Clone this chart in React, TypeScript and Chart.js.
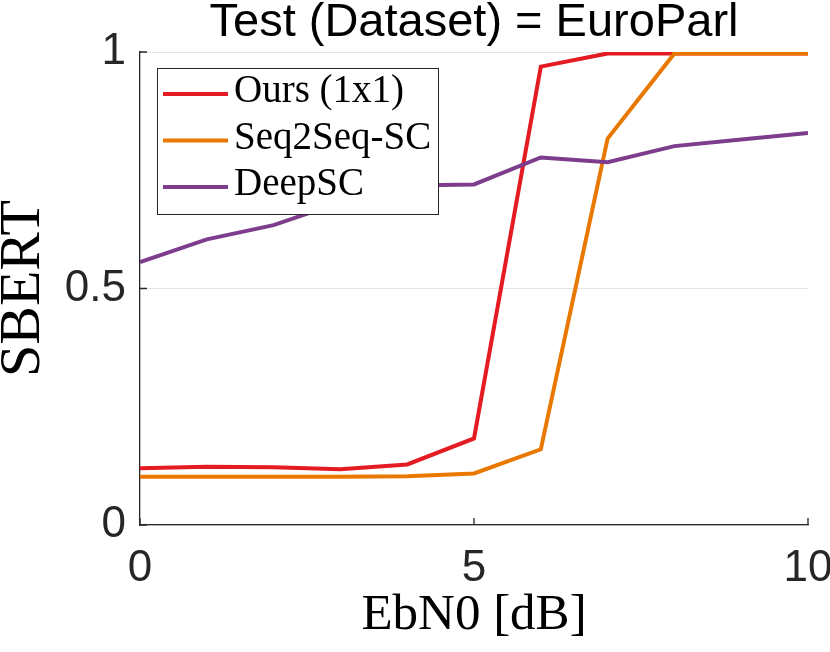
import { useEffect, useRef } from 'react'
import { Chart, registerables } from 'chart.js'
import type { Plugin } from 'chart.js'

Chart.register(...registerables)

const EBN0 = [0, 1, 2, 3, 4, 5, 6, 7, 8, 9, 10]
const OURS = [0.12, 0.123, 0.122, 0.118, 0.128, 0.183, 0.969, 0.997, 0.997, 0.997, 0.997]
const SEQ2SEQ = [0.102, 0.102, 0.102, 0.102, 0.103, 0.109, 0.16, 0.817, 0.997, 0.997, 0.997]
const DEEPSC = [0.556, 0.604, 0.634, 0.682, 0.718, 0.72, 0.777, 0.767, 0.801, 0.815, 0.829]

const SERIES_LABELS = ['Ours (1x1)', 'Seq2Seq-SC', 'DeepSC']
const SERIES_COLORS = ['#e41b23', '#e97800', '#7d3d8c']

const X_TICKS = [0, 5, 10]
const Y_TICKS = [0, 0.5, 1]
const Y_TICK_LABELS = ['0', '0.5', '1']

const TITLE = 'Test (Dataset) = EuroParl'
const X_TITLE = 'EbN0 [dB]'
const Y_TITLE = 'SBERT'

const SANS = '"Liberation Sans", Arial, Helvetica, sans-serif'
const SERIF = '"Liberation Serif", "Times New Roman", serif'
const AXIS_COLOR = '#262626'
const GRID_COLOR = '#e4e4e4'

// title centred over the axes, like matlab does it
const axesTitle: Plugin<'line'> = {
  id: 'axesTitle',
  afterDraw(chart) {
    const { ctx, chartArea } = chart
    ctx.save()
    ctx.font = `47px ${SANS}`
    ctx.fillStyle = '#000000'
    ctx.textAlign = 'center'
    ctx.textBaseline = 'alphabetic'
    ctx.fillText(TITLE, (chartArea.left + chartArea.right) / 2, 36)
    ctx.restore()
  },
}

// matlab style inward tick marks
const innerTicks: Plugin<'line'> = {
  id: 'innerTicks',
  afterDatasetsDraw(chart) {
    const { ctx, chartArea, scales } = chart
    ctx.save()
    ctx.strokeStyle = AXIS_COLOR
    ctx.lineWidth = 1.3
    ctx.beginPath()
    for (const v of X_TICKS) {
      const px = scales.x.getPixelForValue(v)
      ctx.moveTo(px, chartArea.bottom)
      ctx.lineTo(px, chartArea.bottom - 7)
    }
    for (const v of Y_TICKS) {
      const py = scales.y.getPixelForValue(v)
      ctx.moveTo(chartArea.left, py)
      ctx.lineTo(chartArea.left + 7, py)
    }
    ctx.stroke()
    ctx.restore()
  },
}

// boxed legend in the upper left corner of the axes
const boxLegend: Plugin<'line'> = {
  id: 'boxLegend',
  afterDatasetsDraw(chart) {
    const { ctx, chartArea } = chart
    const x0 = chartArea.left + 17
    const y0 = chartArea.top + 16
    const w = 281
    const h = 146
    ctx.save()
    ctx.fillStyle = '#ffffff'
    ctx.fillRect(x0, y0, w, h)
    ctx.strokeStyle = AXIS_COLOR
    ctx.lineWidth = 1
    ctx.strokeRect(x0 + 0.5, y0 + 0.5, w, h)
    ctx.font = `39px ${SERIF}`
    ctx.textBaseline = 'middle'
    chart.data.datasets.forEach((ds, i) => {
      const y = y0 + 26 + i * 46.5
      ctx.strokeStyle = ds.borderColor as string
      ctx.lineWidth = 4
      ctx.beginPath()
      ctx.moveTo(x0 + 6, y)
      ctx.lineTo(x0 + 71, y)
      ctx.stroke()
      ctx.fillStyle = '#000000'
      ctx.fillText(ds.label ?? '', x0 + 77, y - 2)
    })
    ctx.restore()
  },
}

export default function App() {
  const canvasRef = useRef<HTMLCanvasElement>(null)
  const chartRef = useRef<Chart<'line'> | null>(null)

  useEffect(() => {
    if (!canvasRef.current) return
    const series = [OURS, SEQ2SEQ, DEEPSC]

    chartRef.current = new Chart(canvasRef.current, {
      type: 'line',
      data: {
        datasets: series.map((vals, i) => ({
          label: SERIES_LABELS[i],
          data: EBN0.map((x, j) => ({ x, y: vals[j] })),
          borderColor: SERIES_COLORS[i],
          backgroundColor: SERIES_COLORS[i],
          borderWidth: 4,
          pointRadius: 0,
          tension: 0,
          order: series.length - i,
        })),
      },
      options: {
        responsive: false,
        animation: false,
        layout: { padding: { left: 0, right: 22, top: 52, bottom: 0 } },
        plugins: {
          legend: { display: false },
          tooltip: { enabled: false },
          title: { display: false },
        },
        scales: {
          x: {
            type: 'linear',
            min: 0,
            max: 10,
            afterBuildTicks: (s) => {
              s.ticks = X_TICKS.map((value) => ({ value }))
            },
            afterFit: (s) => {
              s.height = 127
              s.paddingLeft = 0
              s.paddingRight = 0
            },
            grid: { display: false, drawTicks: false },
            border: { display: true, color: AXIS_COLOR, width: 1.3 },
            ticks: {
              color: AXIS_COLOR,
              font: { family: SANS, size: 44 },
              padding: 17,
              maxRotation: 0,
              autoSkip: false,
              callback: (v) => String(v),
            },
            title: {
              display: true,
              text: X_TITLE,
              color: '#000000',
              font: { family: SERIF, size: 51, lineHeight: 72 / 51 },
              padding: 0,
            },
          },
          y: {
            type: 'linear',
            min: 0,
            max: 1,
            afterBuildTicks: (s) => {
              s.ticks = Y_TICKS.map((value) => ({ value }))
            },
            afterFit: (s) => {
              s.width = 140
              s.paddingTop = 0
              s.paddingBottom = 0
            },
            grid: { color: GRID_COLOR, lineWidth: 1, drawTicks: false },
            border: { display: true, color: AXIS_COLOR, width: 1.3 },
            ticks: {
              color: AXIS_COLOR,
              font: { family: SANS, size: 44 },
              padding: 14,
              autoSkip: false,
              callback: (v) => Y_TICK_LABELS[Y_TICKS.indexOf(Number(v))] ?? '',
            },
            title: {
              display: true,
              text: Y_TITLE,
              color: '#000000',
              font: { family: SERIF, size: 58, lineHeight: 48 / 58 },
              padding: 0,
            },
          },
        },
      },
      plugins: [innerTicks, boxLegend, axesTitle],
    })

    return () => {
      chartRef.current?.destroy()
      chartRef.current = null
    }
  }, [])

  return (
    <div style={{ position: 'fixed', left: 0, top: 0, width: 830, height: 652, background: '#fff' }}>
      <canvas ref={canvasRef} width={830} height={652} />
    </div>
  )
}
